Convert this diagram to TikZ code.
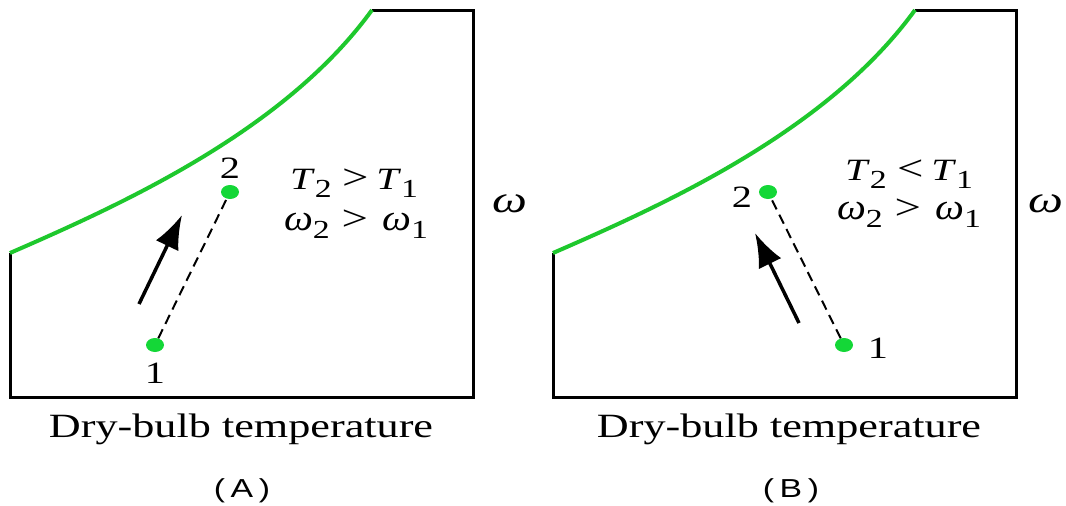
\documentclass[tikz,border=0pt]{standalone}
\usepackage{fontspec}
\setmainfont{Liberation Serif}
\newfontfamily\sansf{Liberation Sans}
\usetikzlibrary{arrows.meta,shapes.geometric}
\definecolor{curvegreen}{RGB}{30,200,45}
\definecolor{dotgreen}{RGB}{20,215,55}
\newcommand{\sbs}[1]{\raisebox{-8pt}{\fontsize{26}{26}\selectfont #1}}
\newcommand{\omg}{\scalebox{0.85}[1]{\fontsize{37}{37}\selectfont\itshape ω}}
\newcommand{\rgt}{{\fontsize{36}{36}\selectfont >}}
\newcommand{\lst}{{\fontsize{36}{36}\selectfont <}}
\begin{document}
\begin{tikzpicture}[x=1pt,y=-1pt,
  frame/.style={line width=3pt, line join=miter},
  sat/.style={curvegreen, line width=4pt},
  ptdot/.style={ellipse, fill=dotgreen, minimum width=18pt, minimum height=14pt, inner sep=0pt},
  proc/.style={dash pattern=on 10pt off 6pt, line width=2pt},
  dirarrow/.style={line width=3.5pt, -{Latex[length=34pt,width=25pt]}},
  lbl/.style={inner sep=0pt, anchor=base, xscale=1.3},
  num/.style={lbl, font=\fontsize{31}{31}\selectfont},
  rel/.style={lbl, font=\fontsize{31}{31}\selectfont},
  sidew/.style={lbl, font=\fontsize{38}{38}\selectfont\itshape},
  axislbl/.style={lbl, font=\fontsize{34}{34}\selectfont},
  panellbl/.style={lbl, font=\sansf\fontsize{26}{26}\selectfont},
]
\useasboundingbox (0,0) rectangle (1066,506);

% ---------- Panel A ----------
\draw[frame] (372,10) -- (473,10) -- (473,397) -- (10,397) -- (10,253);
\draw[sat] (10,253) .. controls (125,203) and (285,130) .. (372,10);
\node[ptdot] (a1) at (155,345) {};
\node[ptdot] (a2) at (230,192) {};
\draw[proc] (a1) -- (a2);
\node[num] (a1l) at (155,383) {1};
\node[num] (a2l) at (230,178) {2};
\coordinate (a3) at (139,304);
\coordinate (a4) at (182,215);
\draw[dirarrow] (a3) -- (a4);
\node[rel] (ar1) at (354,189) {\textit{T}\sbs{2}\hspace{8pt}\rgt\hspace{6pt}\textit{T}\sbs{1}};
\node[rel] (ar2) at (356,230) {\omg\sbs{2}\hspace{9pt}\rgt\hspace{11pt}\omg\sbs{1}};
\node[sidew] (aw) at (510,212) {ω};
\node[axislbl] (ax) at (241,437) {Dry-bulb temperature};
\node[panellbl] (ap) at (242,497) {(\,A\,)};

% ---------- Panel B ----------
\draw[frame] (915,10) -- (1016,10) -- (1016,397) -- (553,397) -- (553,253);
\draw[sat] (553,253) .. controls (668,203) and (828,130) .. (915,10);
\node[ptdot] (b1) at (844,345) {};
\node[ptdot] (b2) at (768,192) {};
\draw[proc] (b1) -- (b2);
\node[num] (b1l) at (878,358) {1};
\node[num] (b2l) at (742,207) {2};
\coordinate (b3) at (799,323);
\coordinate (b4) at (755,233);
\draw[dirarrow] (b3) -- (b4);
\node[rel] (br1) at (909,180) {\textit{T}\sbs{2}\hspace{8pt}\lst\hspace{6pt}\textit{T}\sbs{1}};
\node[rel] (br2) at (909,219) {\omg\sbs{2}\hspace{9pt}\rgt\hspace{11pt}\omg\sbs{1}};
\node[sidew] (bw) at (1046,212) {ω};
\node[axislbl] (bx) at (789,437) {Dry-bulb temperature};
\node[panellbl] (bp) at (791,497) {(\,B\,)};
\end{tikzpicture}
\end{document}
